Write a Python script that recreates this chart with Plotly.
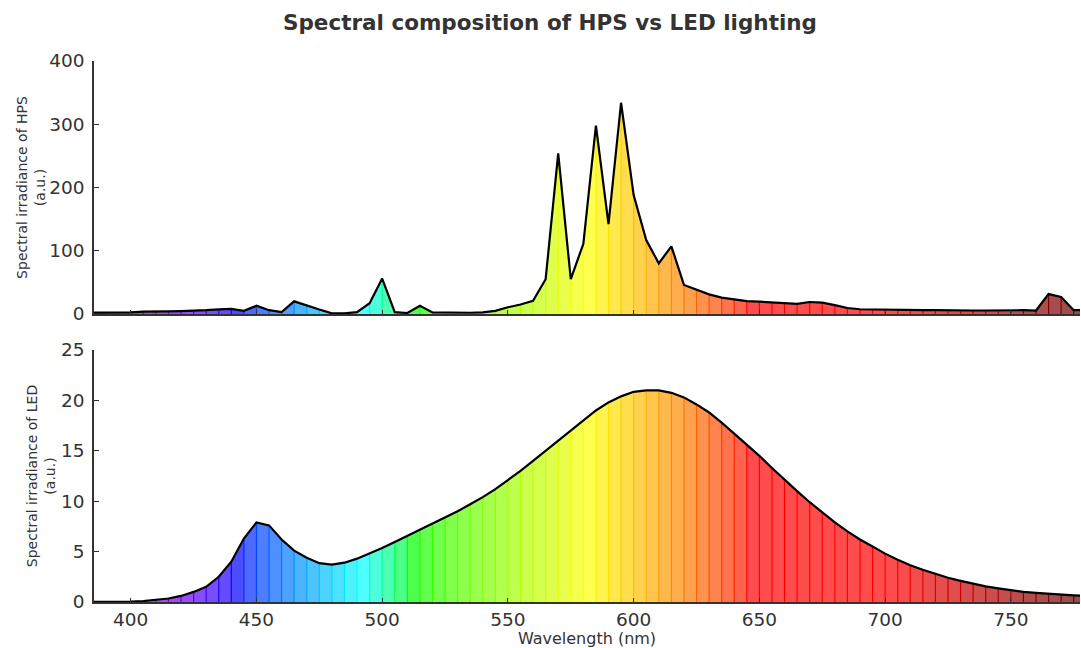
import plotly.graph_objects as go
from plotly.subplots import make_subplots

# ---------------- data ----------------
wavelength = list(range(380, 781, 5))

hps = [2, 2, 2, 2.5, 2.7, 3.7, 3.5, 4, 4.5, 5,
       6, 7.4, 8, 5, 13, 6, 3, 20, 13, 7,
       1, 1, 3, 17, 56, 3, 1.5, 13, 2.5, 2,
       2, 2, 2.5, 5, 10.6, 15, 21, 55, 254, 55,
       111, 298, 142, 334, 188, 117, 80, 107, 46, 38,
       31, 26, 23, 20.5, 19.5, 18.5, 17, 16, 19, 18,
       14, 9.5, 7.5, 7, 6.5, 6.5, 6, 6, 6, 5.5,
       5.5, 5.5, 5.5, 6, 6.5, 6, 5.5, 31.5, 27, 6,
       6]

led = [0, 0, 0, 0.02, 0.05, 0.1, 0.2, 0.35, 0.6, 1.0,
       1.5, 2.5, 4.0, 6.3, 7.9, 7.6, 6.2, 5.1, 4.4, 3.85,
       3.7, 3.9, 4.3, 4.8, 5.35, 5.95, 6.55, 7.15, 7.75, 8.35,
       9.0, 9.7, 10.4, 11.2, 12.1, 13.0, 14.0, 15.0, 16.0, 17.0,
       18.0, 19.0, 19.8, 20.4, 20.85, 21.0, 21.0, 20.75, 20.3, 19.6,
       18.8, 17.8, 16.7, 15.6, 14.5, 13.3, 12.1, 11.0, 9.9, 8.9,
       7.9, 7.0, 6.2, 5.5, 4.8, 4.2, 3.65, 3.2, 2.8, 2.4,
       2.1, 1.8, 1.55, 1.35, 1.15, 1.0, 0.9, 0.8, 0.72, 0.66,
       0.6]

x_ticks = [400, 450, 500, 550, 600, 650, 700, 750]
hps_ticks = [0, 100, 200, 300, 400]
led_ticks = [0, 5, 10, 15, 20, 25]

title_text = "Spectral composition of HPS vs LED lighting"
hps_label = "Spectral irradiance of HPS<br>(a.u.)"
led_label = "Spectral irradiance of LED<br>(a.u.)"
x_label = "Wavelength (nm)"


# ---------------- colour helpers ----------------
def wl_rgb(w, gamma=0.8):
    if w < 440:
        r, g, b = -(w - 440) / 60.0, 0.0, 1.0
    elif w < 490:
        r, g, b = 0.0, (w - 440) / 50.0, 1.0
    elif w < 510:
        r, g, b = 0.0, 1.0, -(w - 510) / 20.0
    elif w < 580:
        r, g, b = (w - 510) / 70.0, 1.0, 0.0
    elif w < 645:
        r, g, b = 1.0, -(w - 645) / 65.0, 0.0
    else:
        r, g, b = 1.0, 0.0, 0.0
    if w < 420:
        f = 0.3 + 0.7 * (w - 380) / 40.0
    elif w <= 700:
        f = 1.0
    else:
        f = 0.3 + 0.7 * (780 - w) / 80.0
    f = max(f, 0.3)
    out = []
    for c in (r, g, b):
        c = max(c, 0.0)
        out.append(0.0 if c == 0 else 255.0 * (c * f) ** gamma)
    return out


def fill_col(w, alpha=0.7):
    r, g, b = wl_rgb(w)
    return "rgb(%d,%d,%d)" % tuple(round(alpha * c + (1 - alpha) * 255) for c in (r, g, b))


def line_col(w):
    r, g, b = wl_rgb(w)
    return "rgb(%d,%d,%d)" % (round(r), round(g), round(b))


# ---------------- figure ----------------
fig = make_subplots(rows=2, cols=1, shared_xaxes=False, vertical_spacing=0.0)


def add_spectrum(vals, row):
    n = len(wavelength)
    for i in range(n - 1):
        w0, w1 = wavelength[i], wavelength[i + 1]
        fig.add_trace(go.Scatter(
            x=[w0, w0, w1, w1], y=[0, vals[i], vals[i + 1], 0],
            mode="lines", fill="toself", fillcolor=fill_col(w0),
            line=dict(width=0), hoverinfo="skip", showlegend=False), row=row, col=1)
    for i in range(n):
        w = wavelength[i]
        fig.add_trace(go.Scatter(
            x=[w, w], y=[0, vals[i]], mode="lines",
            line=dict(color=line_col(w), width=1.2), hoverinfo="skip",
            showlegend=False), row=row, col=1)
    fig.add_trace(go.Scatter(
        x=wavelength, y=vals, mode="lines",
        line=dict(color="black", width=2.2), hoverinfo="skip",
        showlegend=False), row=row, col=1)


add_spectrum(hps, 1)
add_spectrum(led, 2)

W, H = 1081, 648
ml, mr, mt, mb = 94, 1, 61, 46
plot_h = H - mt - mb
top_bottom = (602 - 314) / plot_h
bot_top = (602 - 350) / plot_h

font_family = "DejaVu Sans"
txt_col = "#333333"

axis_common = dict(showgrid=False, zeroline=False, showline=True,
                   linecolor="#333333", linewidth=1.5, ticks="inside",
                   tickcolor="#333333", tickwidth=1,
                   tickfont=dict(family=font_family, size=18.5, color=txt_col))

xrange = [385.4, 777.5]
fig.update_layout(
    width=W, height=H,
    margin=dict(l=ml, r=mr, t=mt, b=mb, autoexpand=False),
    paper_bgcolor="white", plot_bgcolor="white",
    font=dict(family=font_family, color=txt_col),
    title=dict(text="<b>%s</b>" % title_text, x=550 / W, xanchor="center",
               y=1 - 22 / H, yanchor="middle",
               font=dict(family=font_family, size=21.5, color=txt_col)),
    xaxis=dict(axis_common, range=xrange, tickvals=x_ticks, ticklen=4,
               showticklabels=False, domain=[0, 1], anchor="y"),
    xaxis2=dict(axis_common, range=xrange, tickvals=x_ticks, ticklen=4,
                domain=[0, 1], anchor="y2",
                title=dict(text=x_label, standoff=2,
                           font=dict(family=font_family, size=16, color=txt_col))),
    yaxis=dict(axis_common, range=[0, 400], tickvals=hps_ticks, ticklen=5,
               domain=[top_bottom, 1], anchor="x", ticklabelstandoff=4,
               title=dict(text=hps_label, standoff=0,
                          font=dict(family=font_family, size=14, color=txt_col))),
    yaxis2=dict(axis_common, range=[0, 25], tickvals=led_ticks, ticklen=5,
                domain=[0, bot_top], anchor="x2", ticklabelstandoff=4,
                title=dict(text=led_label, standoff=2,
                           font=dict(family=font_family, size=14, color=txt_col))),
)

fig.write_html("out.html", config={"displayModeBar": False},
               post_script="document.body.style.margin='0';document.body.style.padding='0';")
